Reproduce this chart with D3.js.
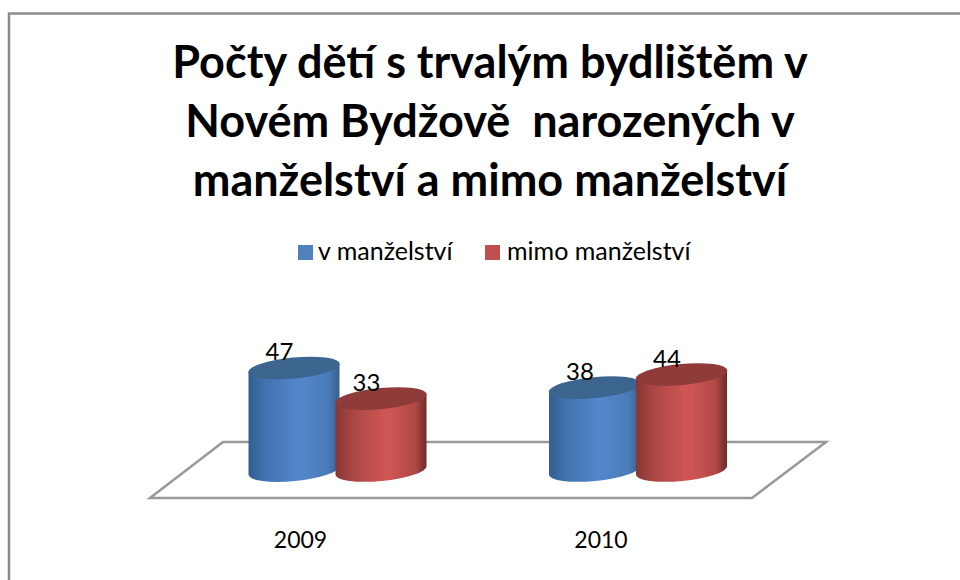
<!DOCTYPE html>
<html><head><meta charset="utf-8">
<script src="https://cdn.jsdelivr.net/npm/d3@7"></script>
<style>html,body{margin:0;padding:0;background:#fff}svg{display:block}text{font-family:Lato,"Open Sans",sans-serif;fill:#000}</style>
</head><body><div id="c"></div>
<script>
const categories = ["2009","2010"];
const seriesNames = ["v manželství","mimo manželství"];
const vManzelstvi = [47,38];
const mimoManzelstvi = [33,44];
const titleLines = ["Počty dětí s trvalým bydlištěm v","Novém Bydžově  narozených v","manželství a mimo manželství"];
const seriesValues = [vManzelstvi, mimoManzelstvi];
const W=960,H=580;
const svg=d3.select("#c").append("svg").attr("width",W).attr("height",H);
const defs=svg.append("defs");
const palette=[
 {left:"#315e92",right:"#365f8c",mid:"#5286ca",top:"#3c6590",swatch:"#4f81bd"},
 {left:"#853634",right:"#6b2a29",mid:"#cd5553",top:"#8f3b39",swatch:"#c0504d"}];
palette.forEach((p,i)=>{
 const g=defs.append("linearGradient").attr("id","g"+i).attr("x1",0).attr("x2",1).attr("y1",0).attr("y2",0);
 [[0,p.left],[.18,d3.interpolateRgb(p.left,p.mid)(.5)],[.52,p.mid],[.62,p.mid],[.88,d3.interpolateRgb(p.right,p.mid)(.7)],[1,p.right]]
 .forEach(s=>g.append("stop").attr("offset",s[0]).attr("stop-color",s[1]));
});
// frame
svg.append("path").attr("d","M9,581V13.5H961").attr("fill","none").attr("stroke","#8c8c8c").attr("stroke-width",2.5);
// title
svg.append("g").selectAll("text").data(titleLines).join("text")
 .attr("x",490).attr("y",(d,i)=>[78,137,196][i]).attr("text-anchor","middle")
 .attr("font-weight",700).attr("font-size",45).style("white-space","pre").text(d=>d);
// legend
const legendX=[298,485], legendTextX=[318,507];
seriesNames.forEach((n,i)=>{
 svg.append("rect").attr("x",legendX[i]).attr("y",245).attr("width",15).attr("height",15).attr("fill",palette[i].swatch);
 svg.append("text").attr("x",legendTextX[i]).attr("y",260).attr("font-size",25).text(n);
});
// scales
const x0=d3.scalePoint().domain(categories).range([337.5,638]);
const x1=d3.scalePoint().domain(d3.range(2)).range([-43.5,43.5]);
const y=d3.scaleLinear().domain([0,47]).range([470.5,368]);
const rx=45.5, ry=10.5, rot=-5.5;
// floor
svg.append("path").attr("d","M150,498L223,442H826L752,498Z").attr("fill","#fff").attr("stroke","#999").attr("stroke-width",2.5);
// cylinders
const a=rot*Math.PI/180, dy=rx*Math.sin(a);
const items=[];
categories.forEach((c,ci)=>seriesValues.forEach((vals,si)=>items.push({c,ci,si,v:vals[ci]})));
const g=svg.append("g");
items.forEach(d=>{
 const cx=x0(d.c)+x1(d.si), t=y(d.v), b=y(0);
 const L=cx-rx, R=cx+rx;
 g.append("path").attr("fill",`url(#g${d.si})`)
  .attr("d",`M${L},${t-dy}L${L},${b-dy}A${rx},${ry} ${rot} 0 0 ${R},${b+dy}L${R},${t+dy}Z`);
 g.append("ellipse").attr("cx",cx).attr("cy",t).attr("rx",rx+.5).attr("ry",ry)
  .attr("transform",`rotate(${rot} ${cx} ${t})`).attr("fill",palette[d.si].top);
});
// data labels
svg.append("g").selectAll("text").data(items).join("text")
 .attr("x",d=>x0(d.c)+x1(d.si)-14.5)
 .attr("y",d=>y(d.v)-8).attr("text-anchor","middle").attr("font-size",24).text(d=>d.v);
// category labels
svg.append("g").selectAll("text").data(categories).join("text")
 .attr("x",d=>x0(d)-37).attr("y",548).attr("text-anchor","middle").attr("font-size",23).text(d=>d);
</script></body></html>
